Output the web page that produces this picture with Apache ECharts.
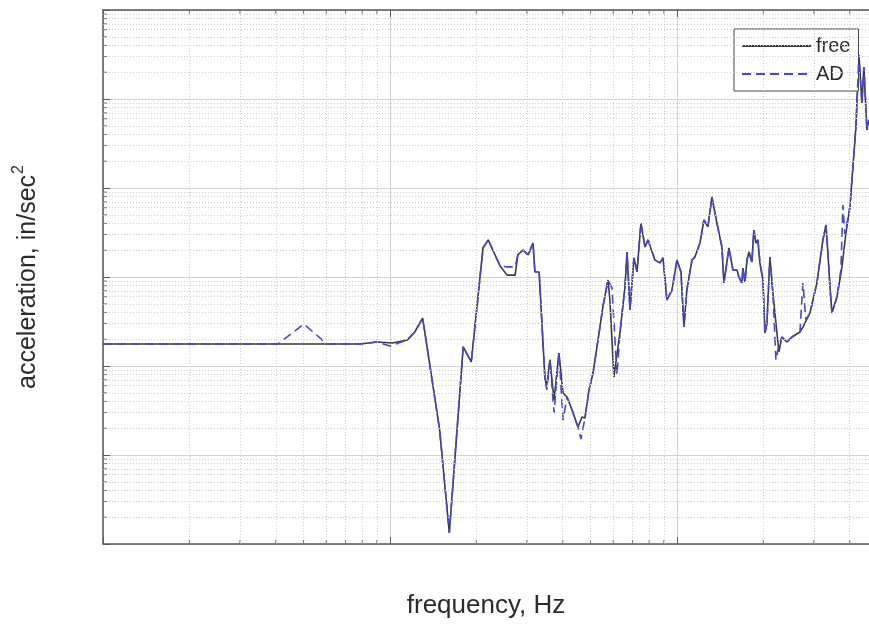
<!DOCTYPE html>
<html>
<head>
<meta charset="utf-8">
<title>acceleration vs frequency</title>
<script src="https://cdn.jsdelivr.net/npm/echarts@6/dist/echarts.min.js"></script>
<style>
  html, body { margin: 0; padding: 0; background: #fff; }
  #chart { width: 869px; height: 628px; }
</style>
</head>
<body>
<div id="chart"></div>
<script>
// free run (solid) - frequency in Hz, acceleration in in/sec^2
const freeFreq = [10, 39.7, 78.6, 90.1, 102, 115, 122, 130, 149, 161, 180, 192, 211, 220, 242, 256, 273, 279, 291, 303,
  315, 320, 331, 347, 352, 361, 373, 388, 401, 414, 431, 452, 467, 478, 494, 510, 531, 552, 575, 584,
  603, 633, 659, 670, 686, 708, 726, 749, 774, 793, 838, 873, 894, 923, 961, 1000, 1033, 1058, 1083, 1128,
  1155, 1203, 1242, 1282, 1324, 1378, 1435, 1458, 1518, 1567, 1619, 1644, 1685, 1698, 1726, 1754, 1782, 1825, 1854, 1885,
  1915, 1946, 1994, 2026, 2059, 2109, 2160, 2231, 2267, 2322, 2417, 2516, 2683, 2748, 2907, 3074, 3227, 3306, 3359, 3414,
  3469, 3611, 3759, 3881, 4007, 4105, 4205, 4239, 4307, 4412, 4483, 4592, 4667]
const freeAcc = [1.77, 1.77, 1.77, 1.86, 1.81, 1.96, 2.41, 3.46, 0.191, 0.0133, 1.64, 1.11, 21.2, 26.1, 13.3, 10.5, 10.5, 17.7, 20.1, 17.7,
  24.1, 11.4, 11.4, 0.696, 0.612, 1.17, 0.415, 1.40, 0.497, 0.448, 0.320, 0.206, 0.267, 0.260, 0.538, 0.834, 1.96, 4.60, 9.25, 5.51,
  0.752, 2.35, 7.72, 19.1, 4.26, 16.4, 11.4, 40.4, 21.7, 26.1, 15.5, 14.4, 16.4, 5.51, 7.14, 15.5, 11.4, 2.74, 7.14, 15.5,
  16.8, 24.1, 43.7, 36.5, 79.2, 40.4, 21.7, 8.56, 21.2, 12.0, 12.0, 10.0, 8.56, 12.6, 8.79, 15.5, 19.1, 14.7, 33.7, 24.1,
  26.1, 14.4, 9.25, 2.35, 3.04, 16.8, 6.61, 2.35, 1.44, 2.12, 1.86, 2.12, 2.41, 2.74, 3.94, 8.56, 26.1, 38.4, 18.6, 7.72,
  3.94, 5.96, 12.95, 31.2, 61.2, 172, 485, 902, 3120, 902, 2290, 448, 581]

// AD run (dashed)
const adFreq = [10, 40.7, 50.1, 60.3, 78.6, 90.1, 100, 115, 122, 130, 149, 161, 180, 192, 211, 220, 242, 256, 273, 279,
  291, 303, 315, 320, 331, 347, 352, 361, 373, 388, 401, 414, 431, 452, 463, 478, 494, 510, 531, 552,
  575, 594, 618, 633, 659, 670, 686, 708, 726, 749, 774, 793, 838, 873, 894, 923, 961, 1000, 1033, 1058,
  1083, 1128, 1155, 1203, 1242, 1282, 1324, 1378, 1435, 1458, 1518, 1567, 1619, 1644, 1685, 1698, 1726, 1754, 1782, 1825,
  1854, 1885, 1915, 1946, 1994, 2026, 2059, 2109, 2160, 2213, 2267, 2322, 2417, 2516, 2683, 2748, 2815, 2907, 3074, 3227,
  3306, 3359, 3414, 3469, 3611, 3727, 3788, 3849, 4007, 4105, 4205, 4239, 4307, 4412, 4483, 4592, 4667]
const adAcc = [1.77, 1.77, 2.96, 1.77, 1.77, 1.86, 1.68, 1.96, 2.41, 3.46, 0.191, 0.0133, 1.64, 1.11, 21.2, 26.1, 13.3, 13.0, 13.0, 17.7,
  20.1, 17.7, 24.1, 11.4, 11.4, 0.696, 0.538, 1.17, 0.296, 1.40, 0.247, 0.448, 0.320, 0.206, 0.151, 0.260, 0.538, 0.834, 1.96, 4.60,
  9.25, 7.52, 0.792, 2.35, 7.72, 19.1, 4.26, 16.4, 11.4, 40.4, 21.7, 26.1, 15.5, 14.4, 16.4, 5.51, 7.14, 15.5, 11.4, 2.74,
  7.14, 15.5, 16.8, 24.1, 43.7, 36.5, 79.2, 40.4, 21.7, 8.56, 21.2, 12.0, 12.0, 10.0, 8.56, 12.6, 8.79, 15.5, 19.1, 14.7,
  33.7, 24.1, 26.1, 14.4, 9.25, 2.35, 3.04, 16.8, 6.61, 1.17, 1.72, 2.12, 1.86, 2.12, 2.41, 8.56, 3.29, 3.94, 8.56, 26.1,
  38.4, 18.6, 7.72, 3.94, 5.96, 12.0, 64.4, 29.6, 61.2, 172, 485, 902, 3120, 902, 2290, 448, 581]

// axis ranges and decades (tick labels are not legible in the source,
// the plot is cut off on the right at about 4.67 kHz)
const freqRange = [10, 4670]
const accRange = [0.01, 10000]
const freqDecades = [10, 100, 1000]
const accDecades = [0.01, 0.1, 1, 10, 100, 1000]
const minorSteps = [2, 3, 4, 5, 6, 7, 8, 9]

const colors = {
  free: '#3a3a3a',
  ad: '#4646d2',
  major: '#d2d2d2',
  minor: '#cfcfcf',
  axis: '#5a5a5a',
  text: '#2b2b2b'
}
const font = 'Liberation Sans, Arial, sans-serif'

const zip = (xs, ys) => xs.map((x, i) => [x, ys[i]])
const minorOf = (decades, max) => {
  const out = []
  decades.forEach(d => minorSteps.forEach(m => { if (d * m < max) out.push(d * m) }))
  return out
}
const minorFreq = minorOf(freqDecades, freqRange[1])
const minorAcc = minorOf(accDecades, accRange[1])

const tickSeries = (data, size, offset) => ({
  type: 'scatter',
  silent: true,
  clip: false,
  symbol: 'rect',
  symbolSize: size,
  symbolOffset: offset,
  itemStyle: { color: colors.axis },
  z: 5,
  data
})

const baseX = {
  type: 'log',
  logBase: 10,
  min: freqRange[0],
  max: freqRange[1],
  axisLabel: { show: false },
  axisLine: { lineStyle: { color: colors.axis, width: 1.5 } },
  axisTick: { inside: true, length: 7, lineStyle: { color: colors.axis } }
}

const chart = echarts.init(document.getElementById('chart'))
chart.setOption({
  animation: false,
  backgroundColor: '#fff',
  grid: { left: 103, right: 0, top: 10, bottom: 84 },
  legend: {
    data: ['free', 'AD'],
    orient: 'vertical',
    left: 734,
    top: 29,
    padding: [7, 8, 7, 7],
    itemWidth: 69,
    itemHeight: 20,
    itemGap: 8,
    borderColor: '#444',
    borderWidth: 1,
    backgroundColor: '#fff',
    textStyle: { fontSize: 20, color: colors.text, fontFamily: font }
  },
  xAxis: [
    Object.assign({}, baseX, {
      position: 'bottom',
      name: 'frequency, Hz',
      nameLocation: 'middle',
      nameGap: 49,
      nameTextStyle: { fontSize: 26, color: colors.text, fontFamily: font },
      splitLine: { show: true, lineStyle: { color: colors.major, width: 1 } }
    }),
    Object.assign({}, baseX, {
      position: 'top',
      splitLine: { show: false }
    })
  ],
  yAxis: {
    type: 'log',
    logBase: 10,
    min: accRange[0],
    max: accRange[1],
    name: '{a|acceleration, in/sec}{b|2}',
    nameLocation: 'middle',
    nameRotate: 90,
    nameGap: 58,
    nameTextStyle: {
      color: colors.text,
      fontFamily: font,
      rich: {
        a: { fontSize: 25, color: colors.text, fontFamily: font },
        b: { fontSize: 16, color: colors.text, fontFamily: font, padding: [0, 0, 18, 1] }
      }
    },
    axisLabel: { show: false },
    axisLine: { lineStyle: { color: colors.axis, width: 1.5 } },
    axisTick: { inside: true, length: 7, lineStyle: { color: colors.axis } },
    splitLine: { show: true, lineStyle: { color: colors.major, width: 1 } }
  },
  series: [
    {
      // dotted minor grid at 2..9 of every decade
      type: 'line',
      silent: true,
      data: [],
      z: 1,
      markLine: {
        silent: true,
        symbol: ['none', 'none'],
        label: { show: false },
        lineStyle: { type: [1, 2], color: colors.minor, width: 1 },
        data: minorFreq.map(v => ({ xAxis: v })).concat(minorAcc.map(v => ({ yAxis: v })))
      }
    },
    tickSeries(minorFreq.map(v => [v, accRange[0]]), [1, 4], [0, -2]),
    tickSeries(minorFreq.map(v => [v, accRange[1]]), [1, 4], [0, 2]),
    tickSeries(minorAcc.map(v => [freqRange[0], v]), [4, 1], [2, 0]),
    {
      name: 'free',
      type: 'line',
      symbol: 'none',
      itemStyle: { color: colors.free, opacity: 0 },
      lineStyle: { color: colors.free, width: 1.6 },
      z: 3,
      data: zip(freeFreq, freeAcc)
    },
    {
      name: 'AD',
      type: 'line',
      symbol: 'none',
      itemStyle: { color: colors.ad, opacity: 0 },
      lineStyle: { color: colors.ad, width: 1.6, type: [9, 5] },
      z: 4,
      data: zip(adFreq, adAcc)
    }
  ]
})

window.addEventListener('resize', () => chart.resize())
</script>
</body>
</html>
